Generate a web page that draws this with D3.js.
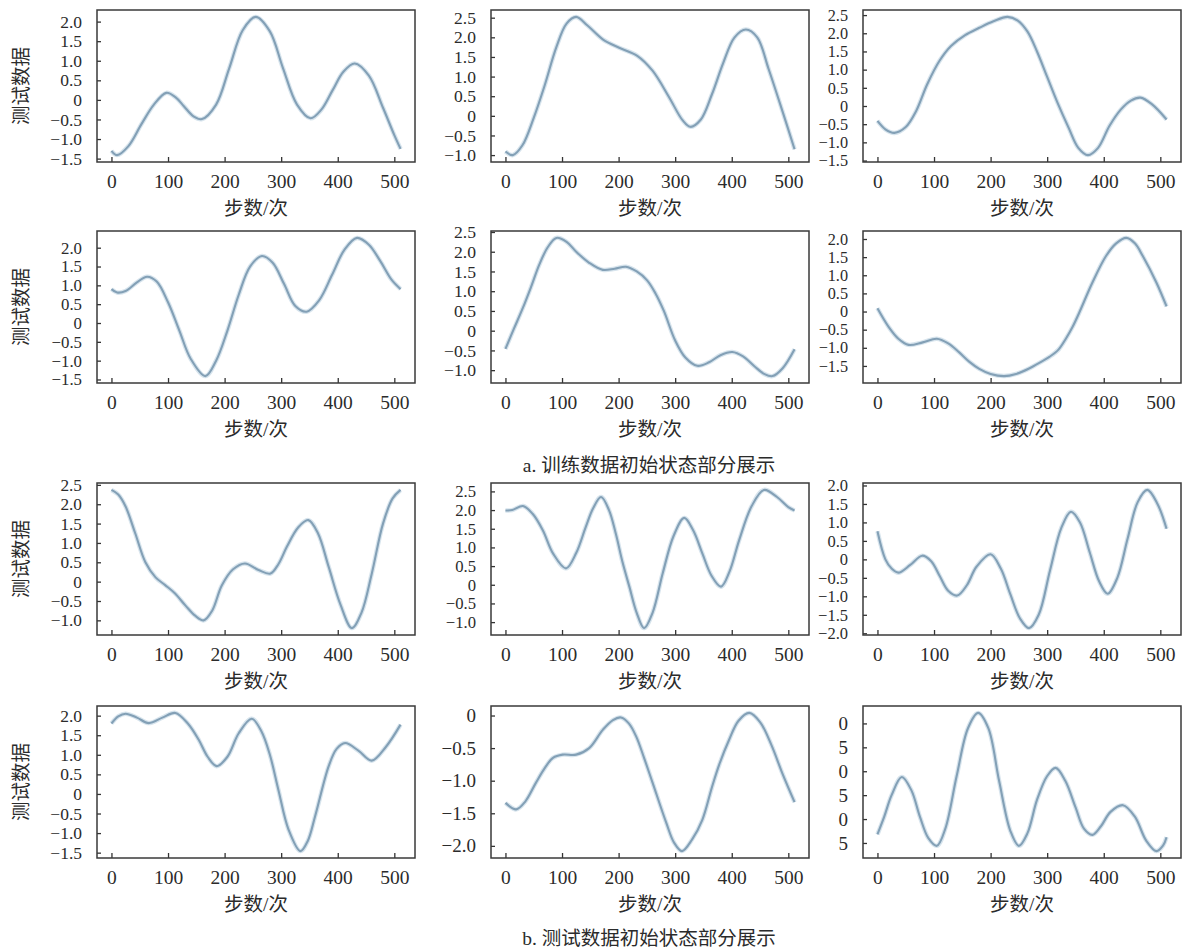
<!DOCTYPE html>
<meta charset="utf-8">
<style>
body { margin: 0; background: #fff; }
svg { display: block; }
text { font-family: "Liberation Serif", "Noto Sans CJK SC", serif; fill: #2b2b2b; }
.axis path { display: none; }
.axis line { stroke: #333; stroke-width: 1.3; }
.axis--x text { font-size: 19.5px; }
.frame { fill: none; stroke: #3a3a3a; stroke-width: 1.5; }
.halo { fill: none; stroke: #c6d8e6; stroke-width: 4.5; opacity: 0.7; }
.curve { fill: none; stroke: #83a0b6; stroke-width: 2.1; }
.title { font-size: 19.5px; }
.caption { font-size: 19.5px; }
</style>
<svg width="1182" height="951"></svg>
<script src="https://d3js.org/d3.v7.min.js"></script>
<script>

// ---- data: [step, value] ----
var trainA1 = [[0,-1.30],[10,-1.41],[30,-1.18],[53,-0.62],[75,-0.12],[97,0.18],[113,0.07],[128,-0.16],[145,-0.42],[160,-0.49],[185,-0.12],[208,0.8],[232,1.78],[255,2.12],[280,1.75],[303,0.82],[328,-0.12],[352,-0.47],[371,-0.25],[391,0.25],[410,0.72],[430,0.93],[455,0.62],[480,-0.2],[500,-0.9],[511,-1.25]];
var trainA2 = [[0,-0.91],[13,-1.0],[30,-0.75],[50,-0.05],[69,0.76],[90,1.75],[108,2.35],[125,2.52],[145,2.3],[172,1.95],[200,1.74],[233,1.53],[260,1.15],[289,0.48],[313,-0.11],[327,-0.28],[345,-0.1],[365,0.55],[385,1.35],[405,2.0],[425,2.2],[445,2.0],[465,1.2],[490,0.1],[511,-0.85]];
var trainA3 = [[0,-0.41],[14,-0.64],[30,-0.74],[50,-0.58],[68,-0.15],[88,0.6],[110,1.25],[130,1.65],[155,1.95],[180,2.15],[205,2.33],[230,2.45],[248,2.35],[265,2.05],[282,1.5],[300,0.8],[318,0.1],[338,-0.6],[355,-1.15],[372,-1.35],[390,-1.15],[410,-0.55],[430,-0.1],[448,0.15],[465,0.23],[485,0.05],[511,-0.37]];
var trainA4 = [[0,0.90],[10,0.81],[25,0.85],[45,1.08],[63,1.23],[80,1.1],[100,0.55],[120,-0.2],[140,-0.95],[166,-1.41],[185,-1.0],[205,-0.2],[225,0.75],[245,1.5],[266,1.78],[285,1.6],[305,1.04],[325,0.45],[345,0.30],[367,0.6],[390,1.28],[412,1.95],[434,2.26],[455,2.08],[475,1.65],[495,1.15],[511,0.90]];
var trainA5 = [[0,-0.46],[15,0.05],[30,0.55],[45,1.1],[60,1.68],[75,2.12],[90,2.35],[108,2.25],[125,2.0],[148,1.72],[172,1.54],[193,1.57],[213,1.62],[232,1.5],[250,1.28],[265,0.95],[280,0.5],[300,-0.25],[318,-0.68],[339,-0.89],[360,-0.8],[380,-0.62],[401,-0.54],[420,-0.65],[440,-0.9],[458,-1.1],[472,-1.15],[490,-0.95],[511,-0.47]];
var trainA6 = [[0,0.09],[20,-0.43],[37,-0.75],[55,-0.92],[80,-0.85],[105,-0.75],[125,-0.88],[144,-1.12],[162,-1.38],[180,-1.58],[200,-1.72],[224,-1.78],[245,-1.72],[268,-1.57],[290,-1.38],[304,-1.25],[320,-1.05],[333,-0.75],[345,-0.42],[357,-0.02],[380,0.80],[404,1.53],[422,1.88],[440,2.03],[455,1.88],[469,1.53],[493,0.80],[511,0.14]];

var testB1 = [[0,2.37],[12,2.25],[25,1.94],[42,1.25],[60,0.5],[78,0.11],[95,-0.09],[112,-0.3],[131,-0.62],[148,-0.88],[163,-1.0],[178,-0.75],[195,-0.1],[215,0.32],[236,0.47],[260,0.3],[281,0.21],[295,0.45],[310,0.9],[330,1.4],[348,1.59],[365,1.25],[384,0.38],[405,-0.6],[425,-1.2],[442,-0.8],[460,0.2],[480,1.5],[497,2.15],[511,2.37]];
var testB2 = [[0,1.99],[12,2.0],[31,2.11],[48,1.9],[66,1.46],[84,0.84],[107,0.44],[125,0.85],[142,1.55],[155,2.05],[169,2.35],[183,2.0],[195,1.37],[207,0.6],[219,-0.05],[232,-0.75],[245,-1.16],[260,-0.75],[278,0.31],[297,1.3],[316,1.79],[332,1.45],[348,0.84],[364,0.25],[381,-0.05],[396,0.35],[413,1.19],[435,2.1],[457,2.54],[480,2.35],[500,2.08],[511,1.99]];
var testB3 = [[0,0.76],[14,0.0],[25,-0.25],[37,-0.36],[58,-0.15],[79,0.10],[95,-0.05],[110,-0.45],[125,-0.85],[141,-0.98],[158,-0.7],[175,-0.2],[200,0.14],[218,-0.25],[235,-0.95],[252,-1.6],[268,-1.86],[285,-1.5],[305,-0.3],[325,0.85],[342,1.29],[358,1.0],[375,0.2],[392,-0.6],[407,-0.93],[424,-0.5],[442,0.55],[460,1.55],[477,1.88],[495,1.5],[511,0.83]];
var testB4 = [[0,1.80],[12,1.98],[25,2.05],[45,1.95],[66,1.81],[90,1.95],[113,2.07],[135,1.8],[154,1.39],[170,0.95],[186,0.71],[205,0.95],[225,1.55],[248,1.92],[265,1.6],[280,1.0],[295,0.11],[313,-0.91],[334,-1.46],[347,-1.2],[360,-0.57],[384,0.71],[398,1.15],[413,1.30],[437,1.1],[460,0.85],[485,1.2],[511,1.77]];
var testB5 = [[0,-1.34],[19,-1.44],[35,-1.32],[54,-1.03],[70,-0.8],[84,-0.65],[101,-0.60],[125,-0.60],[148,-0.50],[172,-0.22],[190,-0.07],[204,-0.03],[218,-0.12],[231,-0.32],[245,-0.65],[260,-1.03],[284,-1.64],[298,-1.95],[312,-2.08],[330,-1.9],[348,-1.6],[365,-1.1],[378,-0.75],[395,-0.38],[412,-0.08],[431,0.04],[450,-0.1],[470,-0.45],[490,-0.9],[511,-1.33]];
var testB6 = [[0,-1.32],[12,-0.95],[25,-0.5],[43,-0.12],[60,-0.4],[75,-0.95],[90,-1.4],[105,-1.56],[120,-1.2],[140,-0.1],[160,0.9],[178,1.22],[196,0.9],[215,-0.2],[235,-1.25],[250,-1.56],[265,-1.3],[282,-0.6],[300,-0.1],[315,0.07],[332,-0.2],[350,-0.75],[365,-1.2],[380,-1.33],[395,-1.15],[412,-0.85],[434,-0.71],[455,-0.95],[475,-1.45],[493,-1.67],[505,-1.55],[511,-1.38]];

var panels = [trainA1, trainA2, trainA3, trainA4, trainA5, trainA6,
              testB1, testB2, testB3, testB4, testB5, testB6];

var stepTicks = [0, 100, 200, 300, 400, 500];
var stepMax = 511;
var xLabel = "步数/次";
var yLabel = "测试数据";
var captions = ["a. 训练数据初始状态部分展示", "b. 测试数据初始状态部分展示"];

// ---- layout ----
var svg = d3.select("svg");
var colLeft = [97, 491, 863],
    rowTop = [10, 231, 483, 706],
    pw = 318, ph = 152;

var fmt = d3.format(".1f");
function yFormat(d) { return d === 0 ? "0" : fmt(d); }

panels.forEach(function(data, i) {
  var col = i % 3, row = Math.floor(i / 3);
  var g = svg.append("g")
      .attr("transform", "translate(" + colLeft[col] + "," + rowTop[row] + ")");

  var x = d3.scaleLinear()
      .domain([-0.05 * stepMax, stepMax * 1.05])
      .range([0, pw]);

  var ext = d3.extent(data, function(d) { return d[1]; }),
      pad = (ext[1] - ext[0]) * 0.05;
  var y = d3.scaleLinear()
      .domain([ext[0] - pad, ext[1] + pad])
      .range([ph, 0]);

  var yt = d3.range(Math.ceil(y.domain()[0] * 2), Math.floor(y.domain()[1] * 2) + 1)
      .map(function(k) { return k / 2; });

  // labels are packed tight; shrink a bit where the 0.5 step is short
  var step = y(0) - y(0.5);
  var ySize = Math.min(19, step / 1.12);

  // last panel: the labels are cut off in the original, only the last digit shows
  var yf = i === 11 ? function(d) { return yFormat(d).slice(-1); } : yFormat;

  g.append("g")
      .attr("class", "axis axis--x")
      .attr("transform", "translate(0," + ph + ")")
      .call(d3.axisBottom(x).tickValues(stepTicks).tickSizeInner(-5).tickSizeOuter(0).tickPadding(12));

  g.append("g")
      .attr("class", "axis axis--y")
      .style("font-size", ySize + "px")
      .call(d3.axisLeft(y).tickValues(yt).tickFormat(yf).tickSizeInner(-4).tickSizeOuter(0).tickPadding(15))
      .selectAll("text").style("font-size", ySize + "px");

  var line = d3.line()
      .x(function(d) { return x(d[0]); })
      .y(function(d) { return y(d[1]); })
      .curve(d3.curveCatmullRom.alpha(0.5));

  g.append("path").datum(data).attr("class", "halo").attr("d", line);
  g.append("path").datum(data).attr("class", "curve").attr("d", line);

  g.append("rect")
      .attr("class", "frame")
      .attr("width", pw)
      .attr("height", ph);

  g.append("text")
      .attr("class", "title")
      .attr("x", pw / 2)
      .attr("y", ph + 46)
      .attr("dy", "0.35em")
      .attr("text-anchor", "middle")
      .text(xLabel);

  if (col === 0) {
    g.append("text")
        .attr("class", "title")
        .attr("transform", "translate(" + (21 - colLeft[0]) + "," + (ph / 2) + ") rotate(-90)")
        .attr("dy", "0.35em")
        .attr("text-anchor", "middle")
        .text(yLabel);
  }
});

svg.selectAll(".caption")
    .data(captions)
  .enter().append("text")
    .attr("class", "caption")
    .attr("x", 649)
    .attr("y", function(d, i) { return [465, 938][i]; })
    .attr("dy", "0.35em")
    .attr("text-anchor", "middle")
    .text(function(d) { return d; });

</script>
